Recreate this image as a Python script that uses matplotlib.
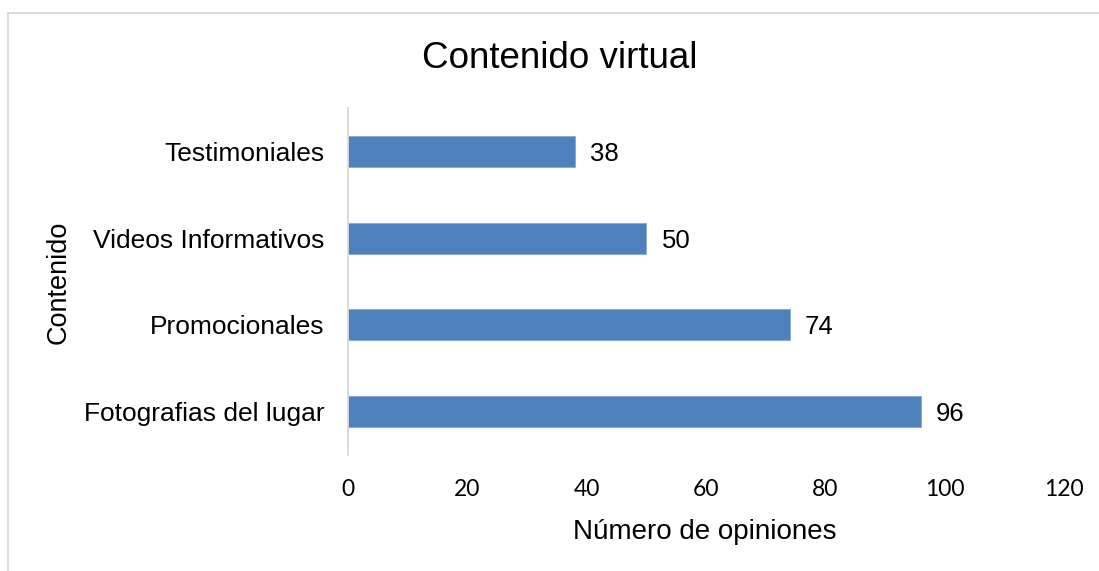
import matplotlib.pyplot as plt
from matplotlib.lines import Line2D

# Datos del grafico (de arriba hacia abajo)
categorias = ["Testimoniales", "Videos Informativos", "Promocionales", "Fotografias del lugar"]
opiniones = [38, 50, 74, 96]
ticks_x = [0, 20, 40, 60, 80, 100, 120]

W, H = 1099, 571
fig = plt.figure(figsize=(W / 100, H / 100), dpi=100)
plt.rcParams['font.family'] = ['Liberation Sans', 'DejaVu Sans']

ax = fig.add_axes([348 / W, 1 - 455 / H, 716 / W, 347 / H])

y = list(range(len(categorias)))
ax.barh(y, opiniones, height=0.357, color='#4F81BD', edgecolor='#86A6D4', linewidth=0.6)
ax.set_ylim(-0.5, len(categorias) - 0.5)
ax.invert_yaxis()
ax.set_xlim(0, 120)

ax.set_xticks(ticks_x)
ax.set_xticklabels([str(t) for t in ticks_x], family=['Lato', 'DejaVu Sans'], fontsize=16.5)
ax.set_yticks(y)
ax.set_yticklabels(categorias, fontsize=19)
ax.tick_params(axis='x', length=0, pad=17.5)
ax.tick_params(axis='y', length=0, pad=17)

for s in ['top', 'right', 'bottom']:
    ax.spines[s].set_visible(False)
ax.spines['left'].set_color('#D9D9D9')
ax.spines['left'].set_linewidth(1.3)

# etiquetas de valor al final de cada barra
for yi, v in zip(y, opiniones):
    ax.annotate(str(v), xy=(v, yi), xytext=(11, 0), textcoords='offset points',
                ha='left', va='center_baseline', fontsize=18.5)

fig.text(560 / W, 1 - 68 / H, "Contenido virtual", ha='center', va='baseline', fontsize=26.5)
fig.text(705 / W, 1 - 539 / H, "Número de opiniones", ha='center', va='baseline', fontsize=20)
fig.text(59 / W, 1 - 282 / H, "Contenido", ha='center', va='center', rotation=90, fontsize=19.5)

# marco exterior del area del grafico
fig.add_artist(Line2D([8 / W, 8 / W], [0, 1 - 13 / H], transform=fig.transFigure,
                      color='#D9D9D9', linewidth=1.3))
fig.add_artist(Line2D([8 / W, 1], [1 - 13 / H, 1 - 13 / H], transform=fig.transFigure,
                      color='#D9D9D9', linewidth=1.3))

fig.savefig("out.png", dpi=100)
